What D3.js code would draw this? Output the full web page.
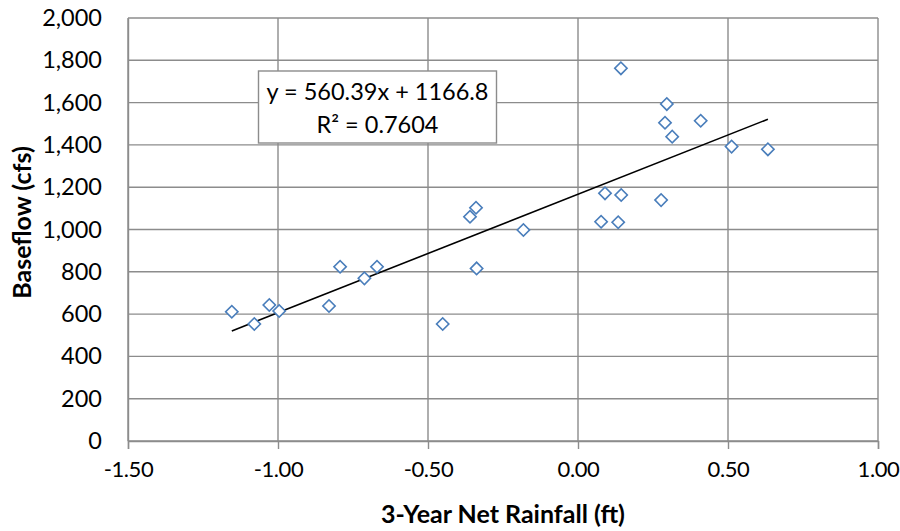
<!DOCTYPE html>
<html>
<head>
<meta charset="utf-8">
<script src="https://cdn.jsdelivr.net/npm/d3@7"></script>
<style>
  html, body { margin: 0; padding: 0; background: #fff; }
  svg { display: block; }
  text { font-family: Lato, "Open Sans", sans-serif; fill: #000; }
</style>
</head>
<body>
<svg id="chart" width="900" height="531"></svg>
<script>
// ---- data ----
const rainfall = [-1.154, -1.079, -1.029, -0.996, -0.830, -0.793, -0.712, -0.670, -0.451, -0.338,
                  -0.360, -0.340, -0.182, 0.077, 0.090, 0.134, 0.143, 0.144, 0.277, 0.290,
                  0.296, 0.314, 0.409, 0.512, 0.633];
const baseflow = [611, 553, 643, 615, 638, 824, 769, 824, 553, 816,
                  1060, 1103, 998, 1037, 1171, 1034, 1762, 1163, 1139, 1505,
                  1593, 1439, 1514, 1392, 1379];
const xTicks = [-1.5, -1.0, -0.5, 0.0, 0.5, 1.0];
const yTicks = [0, 200, 400, 600, 800, 1000, 1200, 1400, 1600, 1800, 2000];
const trendSlope = 560.39;
const trendIntercept = 1166.8;
const trendLabel = ["y = 560.39x + 1166.8", "R² = 0.7604"];
const xTitle = "3-Year Net Rainfall (ft)";
const yTitle = "Baseflow (cfs)";

// ---- layout ----
const W = 900, H = 531;
const m = { left: 128, top: 18, right: 22, bottom: 90 };
const svg = d3.select("#chart");
const x = d3.scaleLinear().domain([-1.5, 1.0]).range([m.left, W - m.right]);
const y = d3.scaleLinear().domain([0, 2000]).range([H - m.bottom, m.top]);
const gridColor = "#8c8c8c";

// gridlines
svg.append("g").selectAll("line.h").data(yTicks).join("line")
  .attr("x1", x(-1.5)).attr("x2", x(1.0))
  .attr("y1", d => y(d)).attr("y2", d => y(d))
  .attr("stroke", gridColor).attr("stroke-width", 1.4);
svg.append("g").selectAll("line.v").data(xTicks).join("line")
  .attr("x1", d => x(d)).attr("x2", d => x(d))
  .attr("y1", y(0)).attr("y2", y(2000))
  .attr("stroke", gridColor).attr("stroke-width", 1.4);

// x axis
const xAxis = svg.append("g").attr("transform", `translate(0,${y(0)})`)
  .call(d3.axisBottom(x).tickValues(xTicks).tickSize(8).tickPadding(12)
        .tickFormat(d3.format(".2f")));
xAxis.select(".domain").attr("stroke", gridColor).attr("stroke-width", 1.4);
xAxis.selectAll(".tick line").attr("stroke", gridColor).attr("stroke-width", 1.4);
xAxis.selectAll(".tick text").attr("font-size", 22).attr("letter-spacing", "-0.4px")
  .attr("font-family", "Lato").attr("fill", "#000")
  .text(d => d < 0 ? "-" + d3.format(".2f")(-d) : d3.format(".2f")(d));

// y axis
const yAxis = svg.append("g").attr("transform", `translate(${x(-1.5)},0)`)
  .call(d3.axisLeft(y).tickValues(yTicks).tickSize(0).tickPadding(26)
        .tickFormat(d3.format(",")));
yAxis.select(".domain").attr("stroke", gridColor).attr("stroke-width", 1.4);
yAxis.selectAll(".tick text").attr("font-size", 23.5).attr("font-family", "Lato").attr("fill", "#000");

// trendline
const xMin = d3.min(rainfall), xMax = d3.max(rainfall);
svg.append("line")
  .attr("x1", x(xMin)).attr("y1", y(trendSlope * xMin + trendIntercept))
  .attr("x2", x(xMax)).attr("y2", y(trendSlope * xMax + trendIntercept))
  .attr("stroke", "#000").attr("stroke-width", 1.6);

// points
const pts = rainfall.map((r, i) => ({ r, b: baseflow[i] }));
svg.append("g").selectAll("path").data(pts).join("path")
  .attr("d", d3.symbol(d3.symbolSquare, 76))
  .attr("transform", d => `translate(${x(d.r)},${y(d.b)}) rotate(45)`)
  .attr("fill", "#fff").attr("stroke", "#4a7ebb").attr("stroke-width", 1.6);

// trend label box
const box = svg.append("g");
box.append("rect").attr("x", 258.5).attr("y", 71).attr("width", 238).attr("height", 72)
  .attr("fill", "#fff").attr("stroke", gridColor).attr("stroke-width", 1.4);
box.selectAll("text").data(trendLabel).join("text")
  .attr("x", 377.5).attr("y", (d, i) => 100 + i * 32.5)
  .attr("text-anchor", "middle").attr("font-size", 23.5)
  .text(d => d);

// axis titles
svg.append("text").attr("x", (x(-1.5) + x(1.0)) / 2).attr("y", 523)
  .attr("text-anchor", "middle").attr("font-size", 25).attr("font-weight", "bold")
  .text(xTitle);
svg.append("text").attr("transform", `translate(31,222.5) rotate(-90)`)
  .attr("text-anchor", "middle").attr("font-size", 25).attr("font-weight", "bold")
  .text(yTitle);
</script>
</body>
</html>
